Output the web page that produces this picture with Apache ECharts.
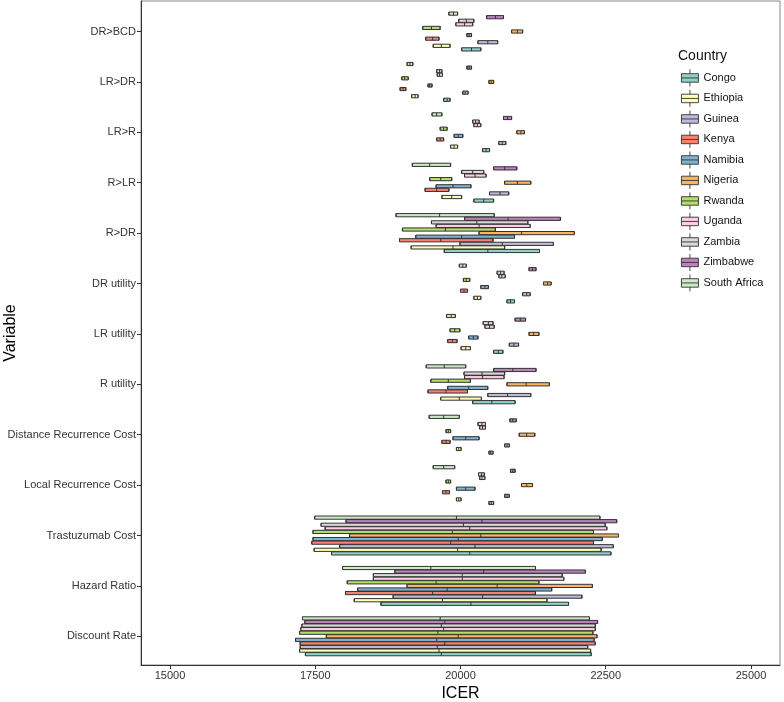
<!DOCTYPE html>
<html>
<head>
<meta charset="utf-8">
<script src="https://cdn.jsdelivr.net/npm/echarts@6/dist/echarts.min.js"></script>
<style>
html, body { margin: 0; padding: 0; background: #fff; }
#chart { width: 784px; height: 702px; }
</style>
</head>
<body>
<div id="chart"></div>
<script>
// variables, top to bottom
var variables = ['DR>BCD', 'LR>DR', 'LR>R', 'R>LR', 'R>DR', 'DR utility', 'LR utility', 'R utility',
    'Distance Recurrence Cost', 'Local Recurrence Cost', 'Trastuzumab Cost', 'Hazard Ratio', 'Discount Rate'];
var countries = ['Congo', 'Ethiopia', 'Guinea', 'Kenya', 'Namibia', 'Nigeria', 'Rwanda', 'Uganda',
    'Zambia', 'Zimbabwe', 'South Africa'];
var colors = ['#8DD3C7', '#FFFFB3', '#BEBADA', '#FB8072', '#80B1D3', '#FDB462', '#B3DE69', '#FCCDE5',
    '#D9D9D9', '#BC80BD', '#CCEBC5'];
var xTicks = [15000, 17500, 20000, 22500, 25000];

// [low, median, high] per country, same order as countries
var drBcd = [[20020, 20190, 20350], [19530, 19670, 19820], [20300, 20470, 20640], [19400, 19520, 19630],
    [20110, 20150, 20190], [20880, 20980, 21070], [19350, 19500, 19650], [19920, 20070, 20210],
    [19970, 20100, 20230], [20450, 20600, 20740], [19800, 19880, 19950]];
var lrDr = [[19710, 19770, 19820], [19160, 19220, 19270], [20040, 20080, 20130], [18960, 19010, 19060],
    [19440, 19470, 19510], [20490, 20530, 20570], [18990, 19040, 19100], [19600, 19640, 19690],
    [19590, 19640, 19680], [20110, 20150, 20190], [19080, 19130, 19180]];
var lrR = [[20380, 20440, 20500], [19830, 19890, 19950], [20660, 20720, 20780], [19590, 19650, 19710],
    [19890, 19960, 20040], [20970, 21040, 21100], [19650, 19710, 19770], [20230, 20290, 20350],
    [20210, 20260, 20320], [20740, 20810, 20880], [19510, 19590, 19680]];
var rLr = [[20230, 20400, 20570], [19680, 19850, 20020], [20500, 20680, 20830], [19390, 19590, 19800],
    [19580, 19870, 20180], [20760, 20980, 21210], [19470, 19660, 19850], [20070, 20250, 20440],
    [20020, 20210, 20400], [20570, 20760, 20970], [19170, 19470, 19830]];
var rDr = [[19720, 20470, 21360], [19150, 19870, 20760], [19990, 20720, 21600], [18950, 19660, 20560],
    [19230, 20020, 20930], [20320, 21050, 21960], [19000, 19740, 20600], [19580, 20320, 21200],
    [19500, 20280, 21160], [20070, 20820, 21720], [18890, 19640, 20580]];
var drUtility = [[20800, 20860, 20930], [20230, 20290, 20350], [21070, 21140, 21200], [20000, 20060, 20120],
    [20350, 20420, 20480], [21430, 21500, 21560], [20050, 20100, 20160], [20660, 20710, 20770],
    [20630, 20690, 20750], [21180, 21240, 21300], [19980, 20040, 20100]];
var lrUtility = [[20570, 20650, 20730], [20010, 20090, 20170], [20840, 20920, 21000], [19780, 19860, 19940],
    [20140, 20220, 20300], [21180, 21260, 21350], [19820, 19900, 19990], [20420, 20500, 20580],
    [20390, 20480, 20560], [20940, 21030, 21120], [19760, 19840, 19910]];
var rUtility = [[20210, 20540, 20940], [19660, 19980, 20360], [20470, 20810, 21210], [19440, 19750, 20120],
    [19780, 20140, 20470], [20800, 21130, 21530], [19490, 19790, 20170], [20070, 20380, 20750],
    [20060, 20370, 20760], [20570, 20900, 21300], [19410, 19720, 20090]];
var distanceCost = [[20490, 20520, 20560], [19930, 19970, 20010], [20760, 20800, 20840], [19680, 19750, 19820],
    [19870, 20090, 20320], [21010, 21140, 21280], [19750, 19790, 19830], [20330, 20380, 20430],
    [20300, 20370, 20430], [20850, 20900, 20960], [19460, 19710, 19980]];
var localCost = [[20490, 20530, 20570], [19930, 19970, 20010], [20760, 20800, 20840], [19690, 19750, 19810],
    [19930, 20090, 20250], [21050, 21140, 21240], [19750, 19790, 19830], [20330, 20370, 20420],
    [20310, 20360, 20410], [20860, 20900, 20940], [19530, 19710, 19900]];
var trastuzumab = [[17780, 20160, 22590], [17480, 19950, 22420], [17920, 20250, 22630], [17440, 19830, 22290],
    [17460, 19960, 22440], [18090, 20350, 22720], [17460, 19860, 22290], [17670, 20160, 22520],
    [17600, 20050, 22490], [18030, 20370, 22690], [17490, 19930, 22400]];
var hazard = [[18630, 20180, 21860], [18170, 19690, 21490], [18840, 20380, 22090], [18020, 19520, 21290],
    [18230, 19770, 21570], [19080, 20630, 22270], [18050, 19580, 21350], [18500, 20030, 21780],
    [18500, 20030, 21750], [18870, 20400, 22150], [17970, 19490, 21290]];
var discount = [[17330, 19670, 22250], [17230, 19630, 22240], [17240, 19600, 22190], [17240, 19730, 22320],
    [17160, 19590, 22300], [17690, 19960, 22350], [17230, 19610, 22280], [17250, 19710, 22320],
    [17270, 19670, 22320], [17320, 19730, 22360], [17280, 19650, 22220]];

var rows = [drBcd, lrDr, lrR, rLr, rDr, drUtility, lrUtility, rUtility, distanceCost, localCost,
    trastuzumab, hazard, discount];

var font = 'Liberation Sans, Arial, Helvetica, sans-serif';
var chart = echarts.init(document.getElementById('chart'));

// boxplot series: first series sits at the top of each band, so South Africa goes first
var series = [];
for (var i = countries.length - 1; i >= 0; i--) {
    series.push({
        name: countries[i],
        type: 'boxplot',
        xAxisIndex: 1,
        yAxisIndex: 1,
        boxWidth: [3.2, 3.2],
        itemStyle: { color: colors[i], borderColor: '#333', borderWidth: 1 },
        emphasis: { disabled: true },
        data: rows.map(function (r) {
            return [r[i][0], r[i][0], r[i][1], r[i][2], r[i][2]];
        })
    });
}

// legend keys keep the fill colour of each country
var legendData = countries.map(function (c, k) {
    return { name: c, itemStyle: { color: colors[k], borderColor: '#333', borderWidth: 0.9 } };
});

var option = {
    animation: false,
    textStyle: { fontFamily: font },
    title: {
        text: 'Country',
        left: 673,
        top: 44,
        textStyle: { fontSize: 14, fontWeight: 'normal', color: '#111', fontFamily: font }
    },
    legend: {
        data: legendData,
        orient: 'vertical',
        left: 676,
        top: 64,
        itemWidth: 17,
        itemHeight: 18,
        itemGap: 2.6,
        itemTextGap: 5,
        icon: 'path://M0,5H20V15H0Z M0,10H20 M10,0V5 M10,15V20',
        textStyle: { fontSize: 11, color: '#111', fontFamily: font }
    },
    grid: [
        { left: 141, right: 4, top: 1, bottom: 37, show: true, borderColor: '#888', borderWidth: 1, outerBoundsMode: 'none' },
        { left: 141, right: 4, top: 6.3, height: 655.2, outerBoundsMode: 'none' }
    ],
    xAxis: [{
        type: 'value',
        gridIndex: 0,
        min: 14500,
        max: 25500,
        name: 'ICER',
        nameLocation: 'middle',
        nameGap: 17,
        nameTextStyle: { fontSize: 16, color: '#000', fontFamily: font },
        axisLine: { show: true, lineStyle: { color: '#333', width: 1 } },
        axisTick: { show: true, length: 4, customValues: xTicks, lineStyle: { color: '#333' } },
        axisLabel: {
            customValues: xTicks, fontSize: 11, color: '#333', margin: 5, fontFamily: font,
            formatter: function (v) { return String(v); }
        },
        splitLine: { show: false }
    }, {
        type: 'value',
        gridIndex: 1,
        min: 14500,
        max: 25500,
        show: false,
        splitLine: { show: false }
    }],
    yAxis: [{
        type: 'value',
        gridIndex: 0,
        name: 'Variable',
        nameLocation: 'middle',
        nameRotate: 90,
        nameGap: 122,
        nameTextStyle: { fontSize: 16, color: '#000', fontFamily: font },
        axisLine: { show: true, lineStyle: { color: '#333', width: 1 } },
        axisTick: { show: false },
        axisLabel: { show: false },
        splitLine: { show: false }
    }, {
        type: 'category',
        gridIndex: 1,
        data: variables,
        inverse: true,
        axisLine: { show: false },
        axisTick: { show: true, alignWithLabel: true, length: 4, lineStyle: { color: '#333' } },
        axisLabel: { fontSize: 11, color: '#333', margin: 5, fontFamily: font },
        splitLine: { show: false }
    }],
    series: series
};
chart.setOption(option);
</script>
</body>
</html>
